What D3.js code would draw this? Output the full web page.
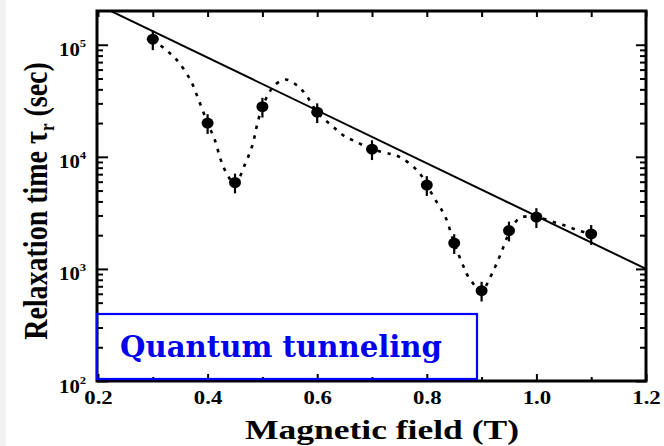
<!DOCTYPE html>
<html><head><meta charset="utf-8">
<script src="https://cdn.jsdelivr.net/npm/d3@7"></script>
<style>body{margin:0;background:#fff}svg{display:block}</style>
</head><body>
<script>
// ---- data ----
const fieldT = [0.3, 0.4, 0.45, 0.5, 0.6, 0.7, 0.8, 0.85, 0.9, 0.95, 1.0, 1.1];
const tau    = [1.12e5, 2.0e4, 5.9e3, 2.8e4, 2.5e4, 1.17e4, 5.6e3, 1.7e3, 640, 2.2e3, 2.9e3, 2.05e3];
const relErr = [0.2, 0.2, 0.2, 0.2, 0.2, 0.2, 0.2, 0.2, 0.2, 0.2, 0.2, 0.2];
// dotted guide curve
const guideB   = [0.30,0.324,0.344,0.369,0.385,0.40,0.413,0.424,0.433,0.45,0.467,0.482,0.49,0.50,0.512,0.521,0.542,0.564,0.579,0.60,0.628,0.649,0.67,0.70,0.734,0.75,0.776,0.791,0.80,0.816,0.834,0.85,0.867,0.876,0.90,0.916,0.925,0.934,0.952,0.961,0.974,1.00,1.034,1.056,1.077,1.10];
const guideTau = [1.12e5,9.0e4,7.3e4,4.8e4,3.1e4,2.0e4,1.42e4,9.4e3,7.4e3,5.7e3,8.3e3,1.28e4,1.9e4,2.8e4,3.7e4,4.3e4,4.9e4,4.3e4,3.6e4,2.5e4,1.87e4,1.54e4,1.37e4,1.17e4,1.06e4,1.0e4,8.1e3,6.7e3,5.6e3,4.1e3,2.9e3,1.7e3,1.05e3,850,640,850,1.05e3,1.33e3,2.2e3,2.6e3,2.9e3,2.9e3,2.6e3,2.4e3,2.2e3,2.04e3];
// solid straight line (exponential fit)
const fitB   = [0.2, 1.2];
const fitTau = [2.27e5, 1.0e3];
// ticks
const xMajor = [0.2, 0.4, 0.6, 0.8, 1.0, 1.2];
const xMinor = [0.3, 0.5, 0.7, 0.9, 1.1];
const yMajor = [1e2, 1e3, 1e4, 1e5];
const yExp   = ["2", "3", "4", "5"];
const yMinor = [2,3,4,5,6,7,8,9].flatMap(m => [1e2, 1e3, 1e4].map(d => m * d));
const xTitle = "Magnetic field (T)";
const boxText = "Quantum tunneling";

const W = 664, H = 446;
const L = 97, R = 646, T = 11, B = 381;
const svg = d3.select("body").append("svg").attr("width", W).attr("height", H);
svg.append("rect").attr("x", 0).attr("y", 0).attr("width", 6).attr("height", H).attr("fill", "#f2f2f2");

const x = d3.scaleLinear().domain([0.2, 1.2]).range([98, R]);
const y = d3.scaleLog().domain([100, 2e5]).range([B, T]);

const serif = "'Liberation Serif','Times New Roman',serif";

function styleAxis(g) {
  g.select(".domain").remove();
  g.selectAll(".tick line").attr("stroke", "#000").attr("stroke-width", 2);
}
// bottom
svg.append("g").attr("transform", `translate(0,${B})`)
  .call(d3.axisBottom(x).tickValues(xMajor).tickSize(-7).tickPadding(10).tickFormat(d3.format(".1f")))
  .call(styleAxis)
  .call(g => g.selectAll("text").attr("font-family", serif).attr("font-weight", "bold")
      .attr("font-size", 19).attr("fill", "#000").attr("transform", "scale(1.2,1)"));
svg.append("g").attr("transform", `translate(0,${B})`)
  .call(d3.axisBottom(x).tickValues(xMinor).tickSize(-4).tickFormat(""))
  .call(styleAxis);
// top
svg.append("g").attr("transform", `translate(0,${T})`)
  .call(d3.axisTop(x).tickValues(xMajor.concat(xMinor)).tickSize(-6).tickFormat(""))
  .call(styleAxis);
// left
svg.append("g").attr("transform", `translate(${L},0)`)
  .call(d3.axisLeft(y).tickValues(yMajor).tickSize(-11).tickPadding(10).tickFormat(() => ""))
  .call(styleAxis)
  .call(g => g.selectAll(".tick text").each(function(d, i) {
      const t = d3.select(this).attr("dy", null).attr("y", 11)
        .attr("font-family", serif).attr("font-weight", "bold").attr("fill", "#000")
        .attr("font-size", 18).attr("transform", "scale(1.15,1)").attr("x", -9.5);
      t.append("tspan").text("10");
      t.append("tspan").attr("font-size", 11).attr("dy", -9).text(yExp[i]);
  }));
svg.append("g").attr("transform", `translate(${L},0)`)
  .call(d3.axisLeft(y).tickValues(yMinor).tickSize(-6).tickFormat(""))
  .call(styleAxis);
// right
svg.append("g").attr("transform", `translate(${R},0)`)
  .call(d3.axisRight(y).tickValues(yMajor).tickSize(-10).tickFormat(""))
  .call(styleAxis);
svg.append("g").attr("transform", `translate(${R},0)`)
  .call(d3.axisRight(y).tickValues(yMinor).tickSize(-6).tickFormat(""))
  .call(styleAxis);

// clip
svg.append("clipPath").attr("id", "plot").append("rect")
  .attr("x", L).attr("y", T).attr("width", R - L).attr("height", B - T);

const pts = (bs, ts) => bs.map((b, i) => [b, ts[i]]);
// fit line
svg.append("path").attr("clip-path", "url(#plot)")
  .attr("d", d3.line().x(d => x(d[0])).y(d => y(d[1]))(pts(fitB, fitTau)))
  .attr("fill", "none").attr("stroke", "#000").attr("stroke-width", 2);
// dotted guide
svg.append("path").attr("clip-path", "url(#plot)")
  .attr("d", d3.line().x(d => x(d[0])).y(d => y(d[1])).curve(d3.curveCatmullRom.alpha(0.5))(pts(guideB, guideTau)))
  .attr("fill", "none").attr("stroke", "#000").attr("stroke-width", 2.6)
  .attr("stroke-dasharray", "3.5,6.5");
// error bars
svg.append("g").selectAll("line").data(fieldT).join("line")
  .attr("x1", d => x(d)).attr("x2", d => x(d))
  .attr("y1", (d, i) => y(tau[i] * (1 + relErr[i])))
  .attr("y2", (d, i) => y(tau[i] * (1 - relErr[i])))
  .attr("stroke", "#000").attr("stroke-width", 2.2);
// points
svg.append("g").selectAll("ellipse").data(fieldT).join("ellipse")
  .attr("cx", d => x(d)).attr("cy", (d, i) => y(tau[i]))
  .attr("rx", 6).attr("ry", 5.5).attr("fill", "#000");

// frame
svg.append("rect").attr("x", L).attr("y", T).attr("width", R - L).attr("height", B - T)
  .attr("fill", "none").attr("stroke", "#000").attr("stroke-width", 3);

// blue box
svg.append("rect").attr("x", 97).attr("y", 314).attr("width", 380).attr("height", 65)
  .attr("fill", "none").attr("stroke", "#0000ff").attr("stroke-width", 2.2);
svg.append("text").attr("x", 120).attr("y", 357)
  .attr("font-family", "'DejaVu Serif',serif").attr("font-weight", "bold")
  .attr("font-size", 29).attr("fill", "#0000ee")
  .attr("textLength", 322).attr("lengthAdjust", "spacingAndGlyphs")
  .text(boxText);

// axis titles
svg.append("text").attr("x", 382).attr("y", 439).attr("text-anchor", "middle")
  .attr("font-family", serif).attr("font-weight", "bold").attr("font-size", 28)
  .attr("textLength", 274).attr("lengthAdjust", "spacingAndGlyphs")
  .text(xTitle);
const yt = svg.append("text").attr("transform", "translate(47,201) scale(1.2,1) rotate(-90)")
  .attr("text-anchor", "middle")
  .attr("font-family", serif).attr("font-weight", "bold").attr("font-size", 28);
yt.append("tspan").text("Relaxation time τ");
yt.append("tspan").attr("font-size", 17).attr("dy", 6).text("r");
yt.append("tspan").attr("dy", -6).text(" (sec)");
</script>
</body></html>
